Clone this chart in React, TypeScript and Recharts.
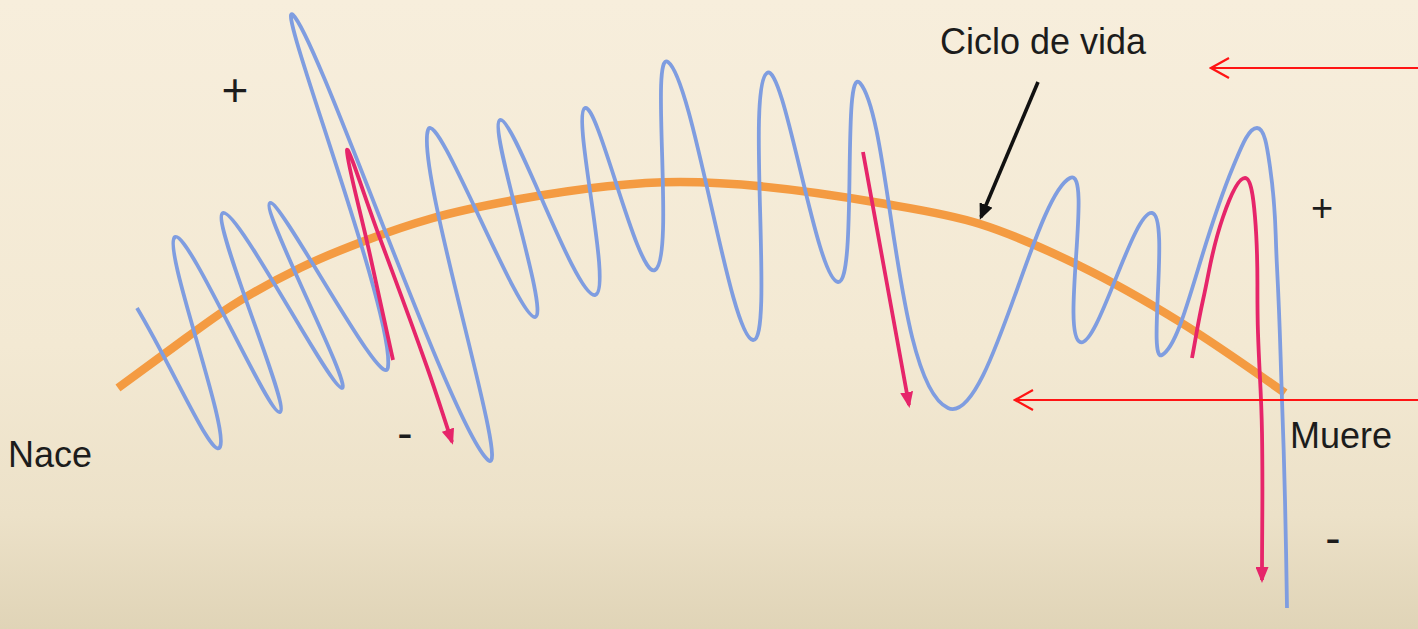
import React from "react"
import { LineChart, Line, XAxis, YAxis, ReferenceDot } from "recharts"

const W = 1418
const H = 629

// units: the diagram's own frame, 0..1418 across, 0..629 down
const lifeArc = [
  [118, 388], [167, 352], [233, 305], [300, 268], [367, 240], [433, 218], [520, 199],
  [680, 182], [880, 203], [980, 224], [1080, 266], [1180, 322], [1285, 393],
]

// the ups and downs, in drawing order (peaks and troughs)
const dailyWave = [
  [137, 308], [220, 447], [175, 237], [280, 412], [223, 213], [342, 388], [270, 203],
  [388, 367], [293, 15], [488, 460], [428, 130], [535, 317], [500, 120], [595, 295],
  [585, 108], [655, 270], [668, 62], [753, 340], [767, 73], [838, 282], [860, 83],
  [948, 408], [1070, 178], [1080, 342], [1152, 213],
  [1162, 355], [1233, 167], [1257, 128], [1270, 167], [1277, 267],
  [1282, 400], [1285, 500], [1287, 608],
]

const fallLeft = [[393, 360], [370, 255], [347, 150], [378, 233], [427, 367], [452, 442]]
const fallMiddle = [[863, 152], [909, 405]]
const fallRight = [
  [1192, 358], [1203, 300], [1223, 217], [1245, 178], [1255, 217], [1258, 333],
  [1262, 433], [1262, 580],
]

const highPointer = [[1418, 68], [1211, 68]]
const lowPointer = [[1418, 400], [1015, 400]]
const cyclePointer = [[1038, 82], [981, 217]]

const labels = [
  { text: "Ciclo de vida", x: 1043, y: 41, size: 36 },
  { text: "Nace", x: 50, y: 454, size: 36 },
  { text: "Muere", x: 1341, y: 435, size: 36 },
  { text: "+", x: 235, y: 90, size: 46 },
  { text: "+", x: 1322, y: 208, size: 38 },
  { text: "-", x: 405, y: 433, size: 46 },
  { text: "-", x: 1333, y: 538, size: 46 },
]

const toPoints = (pts: number[][]) => pts.map(([x, y]) => ({ x, y }))

// cardinal-style spline that keeps point order (the line may run back on itself);
// handles are weighted by segment length so uneven spacing does not kink
const smoothPath = (s: number) => (context: any) => {
  let pts: number[][] = []
  return {
    areaStart() {},
    areaEnd() {},
    lineStart() {
      pts = []
    },
    point(x: number, y: number) {
      pts.push([+x, +y])
    },
    lineEnd() {
      const n = pts.length
      if (!n) return
      context.moveTo(pts[0][0], pts[0][1])
      if (n === 1) return
      const dist = (a: number[], b: number[]) => Math.hypot(b[0] - a[0], b[1] - a[1]) || 1e-6
      const at = (i: number) => {
        if (i < 0) return [2 * pts[0][0] - pts[1][0], 2 * pts[0][1] - pts[1][1]]
        if (i >= n) return [2 * pts[n - 1][0] - pts[n - 2][0], 2 * pts[n - 1][1] - pts[n - 2][1]]
        return pts[i]
      }
      // out and in handles for every point
      const handles = pts.map((p, i) => {
        const a = at(i - 1)
        const b = at(i + 1)
        const da = dist(a, p)
        const db = dist(p, b)
        const tx = b[0] - a[0]
        const ty = b[1] - a[1]
        const wo = (s * db) / (da + db)
        const wi = (s * da) / (da + db)
        return { out: [p[0] + tx * wo, p[1] + ty * wo], inn: [p[0] - tx * wi, p[1] - ty * wi] }
      })
      for (let i = 0; i < n - 1; i++) {
        const c1 = handles[i].out
        const c2 = handles[i + 1].inn
        context.bezierCurveTo(c1[0], c1[1], c2[0], c2[1], pts[i + 1][0], pts[i + 1][1])
      }
    },
  }
}

const BLUE = "#7f9de0"
const ORANGE = "#f49b42"
const PINK = "#e6256a"
const RED = "#ff1414"
const FONT = "'Liberation Sans', Arial, Helvetica, sans-serif"

export default function App() {
  return (
    <div
      style={{
        position: "absolute",
        left: 0,
        top: 0,
        width: W,
        height: H,
        background: "linear-gradient(180deg, #f7eedc 0%, #f3e9d3 55%, #ece1c8 82%, #e0d4b7 100%)",
      }}
    >
      <LineChart width={W} height={H} margin={{ top: 0, right: 0, bottom: 0, left: 0 }}>
        <defs>
          <marker id="pinkHead" viewBox="0 0 16 13" refX="13" refY="6.5" markerWidth="16" markerHeight="13" markerUnits="userSpaceOnUse" orient="auto">
            <path d="M0,0 L16,6.5 L0,13 z" fill={PINK} />
          </marker>
          <marker id="redHead" viewBox="0 0 22 22" refX="20" refY="11" markerWidth="22" markerHeight="22" markerUnits="userSpaceOnUse" orient="auto">
            <path d="M2,1 L20,11 L2,21" fill="none" stroke={RED} strokeWidth="2.2" />
          </marker>
          <marker id="blackHead" viewBox="0 0 16 14" refX="13" refY="7" markerWidth="16" markerHeight="14" markerUnits="userSpaceOnUse" orient="auto">
            <path d="M0,0 L16,7 L0,14 z" fill="#111" />
          </marker>
        </defs>
        <XAxis type="number" dataKey="x" domain={[0, W]} hide />
        <YAxis type="number" domain={[0, H]} reversed hide />

        <Line data={toPoints(lifeArc)} dataKey="y" type="monotone" stroke={ORANGE} strokeWidth={8.5} strokeLinecap="butt" dot={false} activeDot={false} isAnimationActive={false} />
        <Line data={toPoints(dailyWave)} dataKey="y" type={smoothPath(0.45) as any} stroke={BLUE} strokeWidth={3.8} dot={false} activeDot={false} isAnimationActive={false} />

        {[fallLeft, fallMiddle, fallRight].map((pts, i) => (
          <Line key={"fall" + i} data={toPoints(pts)} dataKey="y" type={smoothPath(0.42) as any} stroke={PINK} strokeWidth={3.8} markerEnd="url(#pinkHead)" dot={false} activeDot={false} isAnimationActive={false} />
        ))}

        {[highPointer, lowPointer].map((pts, i) => (
          <Line key={"ptr" + i} data={toPoints(pts)} dataKey="y" type="linear" stroke={RED} strokeWidth={2.2} markerEnd="url(#redHead)" dot={false} activeDot={false} isAnimationActive={false} />
        ))}
        <Line data={toPoints(cyclePointer)} dataKey="y" type="linear" stroke="#111" strokeWidth={3.6} markerEnd="url(#blackHead)" dot={false} activeDot={false} isAnimationActive={false} />

        {labels.map((l, i) => (
          <ReferenceDot
            key={"lbl" + i}
            x={l.x}
            y={l.y}
            r={0}
            fill="none"
            stroke="none"
            label={{ value: l.text, position: "center", fontSize: l.size, fill: "#1c1c1c", fontFamily: FONT }}
          />
        ))}
      </LineChart>
    </div>
  )
}
